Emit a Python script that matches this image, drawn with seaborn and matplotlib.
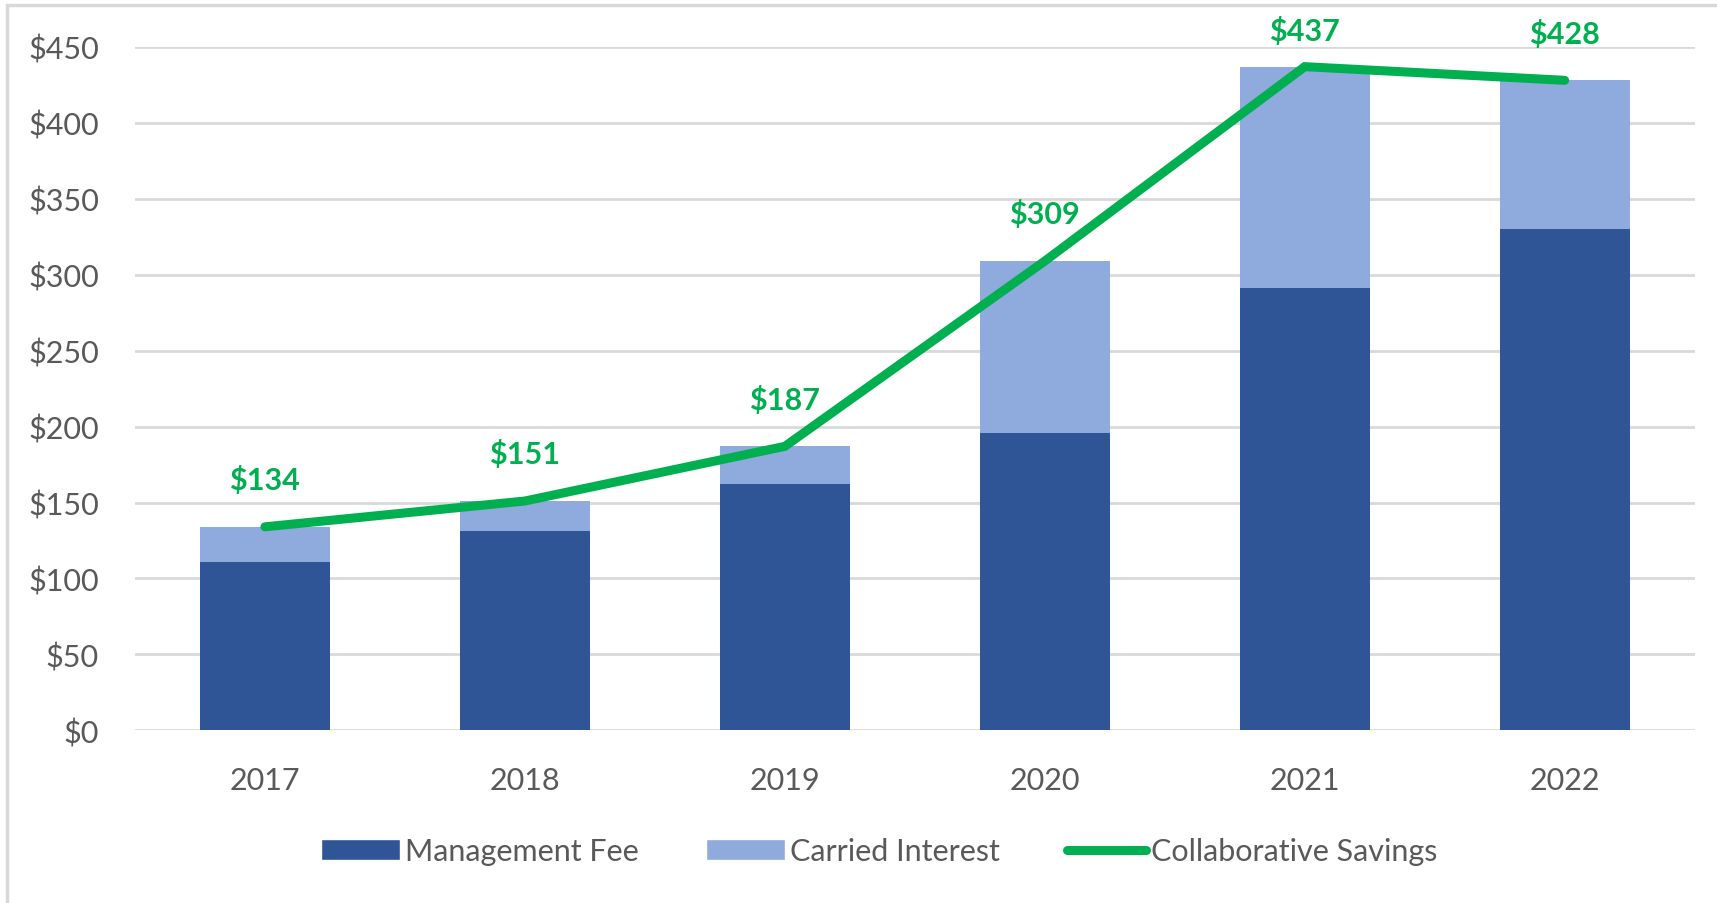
import numpy as np
import pandas as pd
import seaborn as sns
import matplotlib
matplotlib.use("Agg")
from matplotlib import pyplot as plt
from matplotlib.patches import Rectangle, Patch
from matplotlib.lines import Line2D

years = ["2017", "2018", "2019", "2020", "2021", "2022"]
mgmt_fee = [111, 131, 162, 196, 291, 330]
carried = [23, 20, 25, 113, 146, 98]
savings = [134, 151, 187, 309, 437, 428]

dark_blue = "#2F5597"
light_blue = "#8FAADC"
green = "#00B050"
grey_txt = "#595959"

sns.set_style("white")
plt.rcParams["font.family"] = ["Lato", "DejaVu Sans"]

df = pd.DataFrame({"year": years, "mgmt": mgmt_fee, "carried": carried, "savings": savings})
df["total"] = df["mgmt"] + df["carried"]

fig = plt.figure(figsize=(17.17, 9.04), dpi=100)
ax = fig.add_axes([0.0786, 0.191, 0.9084, 0.756])

# stacked bars: total in light blue, management fee over it
sns.barplot(data=df, x="year", y="total", color=light_blue, saturation=1, width=0.5, ax=ax,
            zorder=2, linewidth=0)
sns.barplot(data=df, x="year", y="mgmt", color=dark_blue, saturation=1, width=0.5, ax=ax,
            zorder=3, linewidth=0)

sns.lineplot(x=np.arange(len(years)), y=df["savings"], color=green, linewidth=6.5, ax=ax,
             zorder=4, solid_capstyle="round", solid_joinstyle="miter")

for i, v in enumerate(savings):
    ax.text(i, min(v + 31, 461), f"${v}", ha="center", va="center", color=green,
            fontsize=22, fontweight="bold", clip_on=False)

ax.set_xlim(-0.5, len(years) - 0.5)
ax.set_ylim(0, 450)
ax.set_yticks(np.arange(0, 451, 50))
ax.set_yticklabels([f"${t}" for t in range(0, 451, 50)])
ax.yaxis.grid(True, color="#D9D9D9", linewidth=2)
ax.set_axisbelow(True)
ax.tick_params(axis="both", length=0, labelsize=22, labelcolor=grey_txt)
ax.tick_params(axis="y", pad=26)
ax.tick_params(axis="x", pad=26)
ax.set_xlabel("")
ax.set_ylabel("")
for s in ax.spines.values():
    s.set_visible(False)

handles = [Patch(facecolor=dark_blue, label="Management Fee"),
           Patch(facecolor=light_blue, label="Carried Interest"),
           Line2D([0], [0], color=green, linewidth=6.5, solid_capstyle="round", label="Collaborative Savings")]
leg = fig.legend(handles=handles, loc="center", bbox_to_anchor=(0.512, 0.057), ncol=3, frameon=False,
                 fontsize=22, labelcolor=grey_txt, handlelength=2.6, handleheight=0.7,
                 handletextpad=0.15, columnspacing=2.2)

# outer frame
fig.patches.append(Rectangle((7 / 1717, -0.1), 1.2, 0.1 + 1 - 6 / 904, transform=fig.transFigure,
                             fill=False, edgecolor="#D9D9D9", linewidth=2.5))

fig.savefig("out.png", dpi=100)
